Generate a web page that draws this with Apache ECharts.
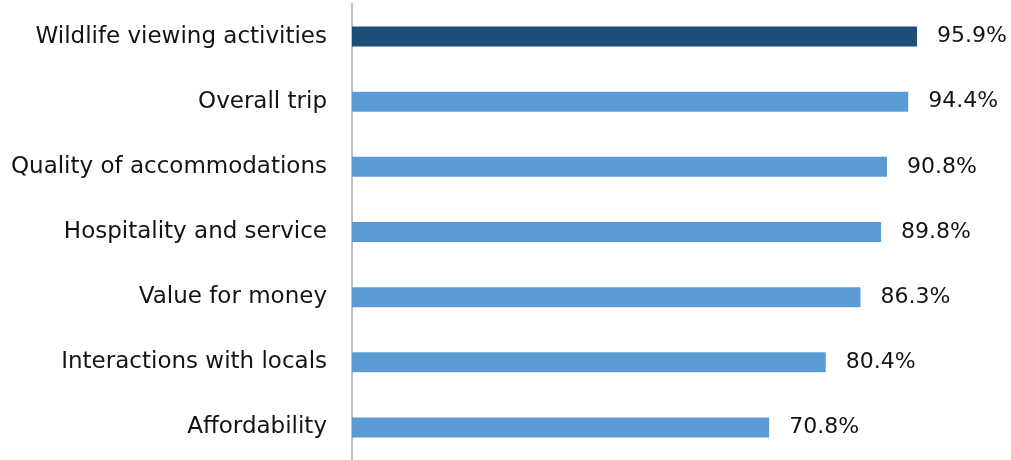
<!DOCTYPE html>
<html>
<head>
<meta charset="utf-8">
<script src="https://cdn.jsdelivr.net/npm/echarts@6/dist/echarts.min.js"></script>
<style>
  html, body { margin: 0; padding: 0; background: #fff; }
  #chart { width: 1011px; height: 460px; }
</style>
</head>
<body>
<div id="chart"></div>
<script>
// Satisfaction ratings, top to bottom
const categories = [
  'Wildlife viewing activities',
  'Overall trip',
  'Quality of accommodations',
  'Hospitality and service',
  'Value for money',
  'Interactions with locals',
  'Affordability'
];
const values = [95.9, 94.4, 90.8, 89.8, 86.3, 80.4, 70.8];
const highlightIndex = 0;

const FONT = '"DejaVu Sans", sans-serif';
const chart = echarts.init(document.getElementById('chart'), null, { renderer: 'canvas' });

chart.setOption({
  animation: false,
  grid: { left: 352, top: 4, width: 589.2, height: 458.5, containLabel: false },
  xAxis: {
    type: 'value',
    min: 0,
    max: 100,
    show: false
  },
  yAxis: {
    type: 'category',
    inverse: true,
    data: categories,
    axisLine: { show: true, lineStyle: { color: '#BFBFBF', width: 2 } },
    axisTick: { show: false },
    axisLabel: {
      margin: 25,
      color: '#141414',
      fontFamily: FONT,
      fontSize: 23
    }
  },
  series: [{
    type: 'bar',
    barWidth: 20,
    data: values.map((v, i) => ({
      value: v,
      itemStyle: { color: i === highlightIndex ? '#1F4E79' : '#5B9BD5' }
    })),
    label: {
      show: true,
      position: 'right',
      distance: 20,
      color: '#141414',
      fontFamily: FONT,
      fontSize: 22,
      formatter: p => p.value.toFixed(1) + '%'
    }
  }]
});
</script>
</body>
</html>
